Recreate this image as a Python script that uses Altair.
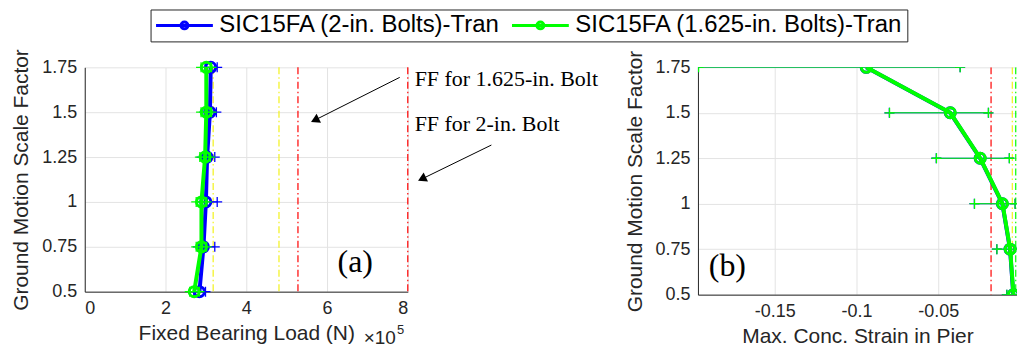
import altair as alt
import pandas as pd

# ---------------- data ----------------
series_names = ["SIC15FA (2-in. Bolts)-Tran", "SIC15FA (1.625-in. Bolts)-Tran"]
series_colors = ["#0000ff", "#00ff00"]
scale_factors = [0.5, 0.75, 1.0, 1.25, 1.5, 1.75]

# (a) fixed bearing load (N)
load_2in = [2.84e5, 2.94e5, 3.00e5, 3.03e5, 3.10e5, 3.12e5]
load_2in_lo = [2.70e5, 2.80e5, 2.86e5, 2.89e5, 2.96e5, 2.98e5]
load_2in_hi = [2.99e5, 3.22e5, 3.28e5, 3.22e5, 3.26e5, 3.28e5]
load_1625 = [2.71e5, 2.89e5, 2.89e5, 2.98e5, 3.01e5, 3.01e5]
load_1625_lo = [2.60e5, 2.76e5, 2.76e5, 2.85e5, 2.88e5, 2.88e5]
load_1625_hi = [2.84e5, 3.02e5, 3.02e5, 3.11e5, 3.14e5, 3.14e5]
load_yellow_lines = [3.18e5, 4.81e5]
load_red_lines = [5.28e5, 8.0e5]
load_ticks = [0, 2e5, 4e5, 6e5, 8e5]

# (b) max. concrete strain in pier
strain_2in = [-0.0041, -0.0061, -0.0108, -0.0244, -0.0427, -0.0941]
strain_2in_lo = [-0.0081, -0.0142, -0.0279, -0.0512, -0.0799, -0.1970]
strain_2in_hi = [-0.0004, -0.0010, -0.0030, -0.0065, -0.0193, -0.0366]
strain_1625 = [-0.0040, -0.0060, -0.0107, -0.0243, -0.0426, -0.0940]
strain_1625_lo = [-0.0080, -0.0141, -0.0278, -0.0511, -0.0798, -0.1966]
strain_1625_hi = [-0.0004, -0.0010, -0.0030, -0.0065, -0.0193, -0.0366]
strain_red_lines = [-0.0177]
strain_yellow_lines = [-0.0047]
strain_green_lines = [-0.0026]
strain_ticks = [-0.15, -0.1, -0.05]

# annotations (data coordinates of panel a)
ann_text = ["FF for 1.625-in. Bolt", "FF for 2-in. Bolt"]
ann_text_x = [8.17e5, 8.17e5]
ann_text_y = [1.686, 1.433]
arrow_x0 = [7.80e5, 10.07e5]
arrow_y0 = [1.694, 1.317]
arrow_x1 = [5.70e5, 8.35e5]
arrow_y1 = [1.456, 1.128]

FONT = "Liberation Sans"
SERIF = "Liberation Serif"
AX = "#262626"
PLUS = "M-1,0L1,0M0,-1L0,1"
LEG_SYMBOL = "M-1,0L1,0M-0.12,0A0.12,0.12,0,1,0,0.12,0A0.12,0.12,0,1,0,-0.12,0"

legend = alt.Legend(
    title=None, orient="none", legendX=66, legendY=-58, direction="horizontal",
    symbolType=LEG_SYMBOL, symbolSize=3249, symbolStrokeWidth=3,
    labelFont=FONT, labelFontSize=24, labelColor="#000000", labelOffset=5, labelLimit=600,
    columnPadding=10, padding=4, clipHeight=24,
    strokeColor=AX, fillColor="white",
)
color = alt.Color("s:N", scale=alt.Scale(domain=series_names, range=series_colors), legend=legend)

y_axis = alt.Axis(values=scale_factors, labelExpr="'' + datum.value", title="Ground Motion Scale Factor")


def Xa(field):
    return alt.X(field, type="quantitative",
                 scale=alt.Scale(domain=[0, 8e5], nice=False, zero=False),
                 axis=alt.Axis(values=load_ticks, labelExpr="'' + (datum.value / 100000)",
                               title="Fixed Bearing Load (N)", titlePadding=5))


def Xb(field):
    return alt.X(field, type="quantitative",
                 scale=alt.Scale(domain=[-0.197, -0.00183], nice=False, zero=False),
                 axis=alt.Axis(values=strain_ticks, labelExpr="'' + datum.value",
                               title="Max. Conc. Strain in Pier", titlePadding=5))


def Ya(field, dom):
    return alt.Y(field, type="quantitative",
                 scale=alt.Scale(domain=dom, nice=False, zero=False), axis=y_axis)


def series_layers(Xf, dom, xs, lo, hi, name, clip):
    df = pd.DataFrame({"x": xs, "lo": lo, "hi": hi, "y": scale_factors, "s": name})
    base = alt.Chart(df)
    rules = base.mark_rule(strokeWidth=1, clip=clip).encode(
        x=Xf("lo"), x2="hi", y=Ya("y", dom), color=color)
    plus_lo = base.mark_point(shape=PLUS, size=100, strokeWidth=1.3, filled=False, opacity=1, clip=clip).encode(
        x=Xf("lo"), y=Ya("y", dom), color=color)
    plus_hi = base.mark_point(shape=PLUS, size=100, strokeWidth=1.3, filled=False, opacity=1, clip=clip).encode(
        x=Xf("hi"), y=Ya("y", dom), color=color)
    line = base.mark_line(strokeWidth=4, clip=clip).encode(
        x=Xf("x"), y=Ya("y", dom), color=color, order="y:Q")
    pts = base.mark_point(shape="circle", size=100, strokeWidth=3, filled=False, opacity=1, clip=clip).encode(
        x=Xf("x"), y=Ya("y", dom), color=color)
    return [rules, plus_lo, plus_hi, line, pts]


def vlines(Xf, vals, col, clip):
    df = pd.DataFrame({"x": vals})
    return alt.Chart(df).mark_rule(color=col, strokeWidth=1.2, strokeDash=[7, 3, 1.5, 3], clip=clip).encode(x=Xf("x"))


dom_a = [0.5, 1.75]
dom_b = [0.5, 1.75]

# ---- panel (a)
layers_a = [vlines(Xa, load_yellow_lines, "#f2f21a", False), vlines(Xa, load_red_lines, "#ff0000", False)]
layers_a += series_layers(Xa, dom_a, load_2in, load_2in_lo, load_2in_hi, series_names[0], False)
layers_a += series_layers(Xa, dom_a, load_1625, load_1625_lo, load_1625_hi, series_names[1], False)

arr = pd.DataFrame({"x0": arrow_x0, "y0": arrow_y0, "x1": arrow_x1, "y1": arrow_y1})
layers_a.append(alt.Chart(arr).mark_rule(color="#000000", strokeWidth=1).encode(
    x=Xa("x0"), y=Ya("y0", dom_a), x2="x1", y2="y1"))
layers_a.append(alt.Chart(arr).mark_point(shape="triangle-up", size=100, angle=244, filled=True,
                                          color="#000000", opacity=1).encode(x=Xa("x1"), y=Ya("y1", dom_a)))
ann = pd.DataFrame({"x": ann_text_x, "y": ann_text_y, "t": ann_text})
layers_a.append(alt.Chart(ann).mark_text(font=SERIF, fontSize=22, align="left", baseline="middle",
                                         color="#000000").encode(x=Xa("x"), y=Ya("y", dom_a), text="t:N"))
lab_a = pd.DataFrame({"x": [6.70e5], "y": [0.667], "t": ["(a)"]})
layers_a.append(alt.Chart(lab_a).mark_text(font=SERIF, fontSize=32, align="center", baseline="middle",
                                           color="#000000").encode(x=Xa("x"), y=Ya("y", dom_a), text="t:N"))
exp_a = pd.DataFrame({"x": [6.91e5, 7.73e5], "y": [0.239, 0.287], "t": ["\u00d710", "5"], "fs": [19, 13]})
layers_a.append(alt.Chart(exp_a).mark_text(font=FONT, align="left", baseline="middle", color=AX).encode(
    x=Xa("x"), y=Ya("y", dom_a), text="t:N", size=alt.Size("fs:Q", scale=None, legend=None)))

panel_a = alt.layer(*layers_a).properties(width=324, height=225)

# ---- panel (b)
layers_b = [vlines(Xb, strain_red_lines, "#ff0000", True), vlines(Xb, strain_yellow_lines, "#f2f21a", True),
            vlines(Xb, strain_green_lines, "#00ff00", True)]
layers_b += series_layers(Xb, dom_b, strain_2in, strain_2in_lo, strain_2in_hi, series_names[0], True)
layers_b += series_layers(Xb, dom_b, strain_1625, strain_1625_lo, strain_1625_hi, series_names[1], True)
lab_b = pd.DataFrame({"x": [-0.179], "y": [0.659], "t": ["(b)"]})
layers_b.append(alt.Chart(lab_b).mark_text(font=SERIF, fontSize=32, align="center", baseline="middle",
                                           color="#000000").encode(x=Xb("x"), y=Ya("y", dom_b), text="t:N"))
panel_b = alt.layer(*layers_b).properties(width=320, height=228)

chart = alt.hconcat(panel_a, panel_b, spacing=291, bounds="flush").properties(
    padding={"left": 10, "top": 8, "right": 0, "bottom": 4}
).configure_view(stroke=None).configure_axis(
    domainColor=AX, domainWidth=1, gridColor="#e3e3e3", gridWidth=1, ticks=False,
    labelFont=FONT, labelFontSize=18, labelColor=AX, labelPadding=8,
    titleFont=FONT, titleFontSize=21, titleFontWeight="normal", titleColor=AX, titlePadding=10,
)

chart.save("out.html", embed_options={"renderer": "svg", "actions": False})
